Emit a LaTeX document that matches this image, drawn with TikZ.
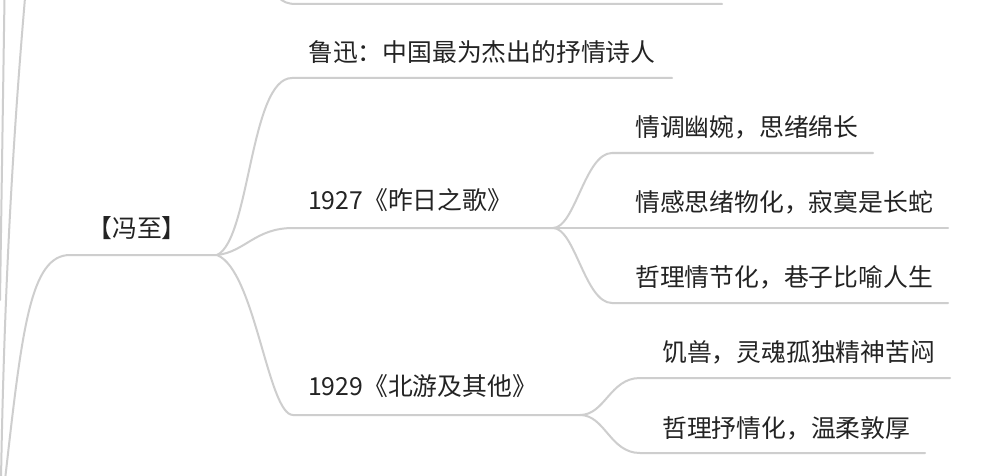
\documentclass[tikz,border=0pt]{standalone}
\usepackage{fontspec}
\setmainfont{Noto Sans CJK SC}
\definecolor{linegray}{RGB}{206,206,206}
\definecolor{textgray}{RGB}{35,35,35}
\begin{document}
\begin{tikzpicture}[x=1pt,y=-1pt,
  conn/.style={draw=linegray, line width=2pt, line cap=round},
  lbl/.style={anchor=west, inner sep=0pt, text=textgray,
    font=\fontsize{24.8}{28}\selectfont, text height=21.8pt, text depth=3pt}]
\useasboundingbox (0,0) rectangle (1001,476);
\clip (0,0) rectangle (1001,476);
\fill[white] (0,0) rectangle (1001,476);

% text nodes
\node[lbl, anchor=center] (fz) at (137,228) {【冯至】};
\node[lbl] (lu) at (308,52) {鲁迅：中国最为杰出的抒情诗人};
\node[lbl] (y27) at (308,200) {1927《昨日之歌》};
\node[lbl] (y29) at (308,386) {1929《北游及其他》};
\node[lbl] (c1) at (635,127) {情调幽婉，思绪绵长};
\node[lbl] (c2) at (635,202) {情感思绪物化，寂寞是长蛇};
\node[lbl] (c3) at (635,277) {哲理情节化，巷子比喻人生};
\node[lbl] (d1) at (662,352) {饥兽，灵魂孤独精神苦闷};
\node[lbl] (d2) at (662,428) {哲理抒情化，温柔敦厚};

% coordinates of the branch lines
\coordinate (topA) at (278,-3);
\coordinate (topB) at (296,4);
\coordinate (topE) at (722,4);
\coordinate (leftA0) at (4.5,-2);
\coordinate (leftA1) at (0,300);
\coordinate (leftB0) at (25,-2);
\coordinate (leftB1) at (1,480);
\coordinate (fzIn) at (5,480);
\coordinate (fzL) at (70,255);
\coordinate (R) at (217,255);
\coordinate (luL) at (292,78);
\coordinate (luE) at (672,78);
\coordinate (y27L) at (293,228);
\coordinate (B1) at (553,228);
\coordinate (y29L) at (293,415);
\coordinate (B2) at (580,415);
\coordinate (c1L) at (612,153);
\coordinate (c1E) at (873,153);
\coordinate (c2E) at (948,228);
\coordinate (c3L) at (612,303);
\coordinate (c3E) at (948,303);
\coordinate (d1L) at (640,378);
\coordinate (d1E) at (950,378);
\coordinate (d2L) at (640,453);
\coordinate (d2E) at (925,453);

% off-picture fragments
\draw[conn] (topA) .. controls (283,2) and (288,4) .. (topB) -- (topE);
\draw[conn] (leftA0) -- (leftA1);
\draw[conn] (leftB0) .. controls (12,150) and (4,300) .. (leftB1);

% main branch
\draw[conn] (fzIn) .. controls (22,330) and (30,255) .. (fzL) -- (R);
\draw[conn] (R) .. controls (250,240) and (250,78) .. (luL) -- (luE);
\draw[conn] (R) .. controls (245,252) and (255,228) .. (y27L) -- (B1);
\draw[conn] (R) .. controls (255,270) and (268,415) .. (y29L) -- (B2);

% 1927 children
\draw[conn] (B1) .. controls (575,228) and (585,153) .. (c1L) -- (c1E);
\draw[conn] (B1) -- (c2E);
\draw[conn] (B1) .. controls (575,228) and (585,303) .. (c3L) -- (c3E);

% 1929 children
\draw[conn] (B2) .. controls (605,415) and (610,378) .. (d1L) -- (d1E);
\draw[conn] (B2) .. controls (605,415) and (610,453) .. (d2L) -- (d2E);
\end{tikzpicture}
\end{document}
